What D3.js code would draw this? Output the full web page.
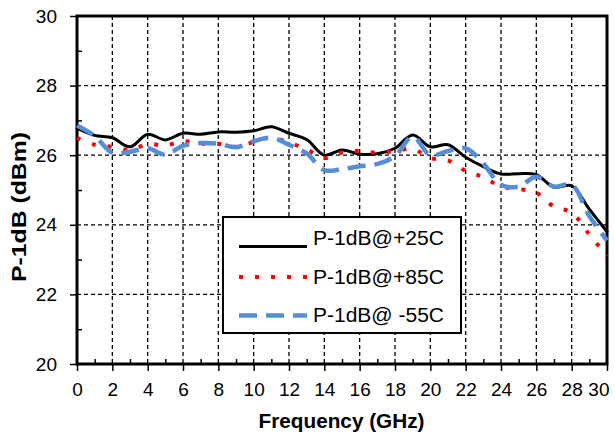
<!DOCTYPE html>
<html>
<head>
<meta charset="utf-8">
<script src="https://cdn.jsdelivr.net/npm/d3@7"></script>
<style>
  body { margin: 0; background: #fff; }
  text { font-family: Arial, "Liberation Sans", sans-serif; }
</style>
</head>
<body>
<svg width="615" height="435"></svg>
<script>
// frequency points (GHz)
var freq = [0, 1, 2, 3, 4, 5, 6, 7, 8, 9, 10, 11, 12, 13, 14, 15, 16, 17, 18, 19, 20, 21, 22, 23, 24, 25, 26, 27, 28, 29, 30];

// P-1dB in dBm for each temperature
var p25 = [26.78, 26.57, 26.5, 26.24, 26.6, 26.44, 26.63, 26.6, 26.67, 26.66, 26.7, 26.82, 26.63, 26.45, 26.0, 26.15, 26.03, 26.04, 26.2, 26.58, 26.24, 26.3, 25.94, 25.67, 25.46, 25.47, 25.44, 25.08, 25.12, 24.45, 23.8];
var p85 = [26.5, 26.3, 26.24, 26.15, 26.32, 26.28, 26.4, 26.33, 26.33, 26.24, 26.38, 26.5, 26.36, 26.17, 25.92, 26.08, 26.12, 26.07, 26.12, 26.18, 25.92, 25.85, 25.55, 25.37, 25.1, 25.03, 24.92, 24.52, 24.35, 23.72, 23.1];
var m55 = [26.85, 26.55, 26.07, 26.1, 26.2, 26.02, 26.27, 26.35, 26.33, 26.23, 26.4, 26.5, 26.3, 26.05, 25.57, 25.6, 25.68, 25.75, 25.97, 26.53, 26.0, 26.12, 26.2, 25.76, 25.15, 25.1, 25.38, 25.1, 25.15, 24.25, 23.55];

var seriesNames = ["P-1dB@+25C", "P-1dB@+85C", "P-1dB@ -55C"];

var xTicks = [0, 2, 4, 6, 8, 10, 12, 14, 16, 18, 20, 22, 24, 26, 28, 30];
var xMinor = [1, 3, 5, 7, 9, 11, 13, 15, 17, 19, 21, 23, 25, 27, 29];
var yTicks = [20, 22, 24, 26, 28, 30];
var yMinor = [21, 23, 25, 27, 29];

var svg = d3.select("svg");
var plot = {left: 77, right: 607, top: 16, bottom: 364};

var xScale = d3.scaleLinear().domain([0, 30]).range([plot.left, plot.right]);
var yScale = d3.scaleLinear().domain([20, 30]).range([plot.bottom, plot.top]);

// dashed grid
svg.append("g").selectAll("line")
  .data(xTicks.slice(1, -1))
  .enter().append("line")
  .attr("x1", function(d){ return xScale(d); })
  .attr("x2", function(d){ return xScale(d); })
  .attr("y1", plot.top).attr("y2", plot.bottom)
  .attr("stroke", "#000").attr("stroke-width", 1.3)
  .attr("stroke-dasharray", "4 3");

svg.append("g").selectAll("line")
  .data(yTicks.slice(1, -1))
  .enter().append("line")
  .attr("y1", function(d){ return yScale(d); })
  .attr("y2", function(d){ return yScale(d); })
  .attr("x1", plot.left).attr("x2", plot.right)
  .attr("stroke", "#000").attr("stroke-width", 1.3)
  .attr("stroke-dasharray", "4 3");

// axes
var xAxis = d3.axisBottom(xScale).tickValues(xTicks).tickSizeInner(7).tickSizeOuter(0).tickPadding(12);
var xAxisMinor = d3.axisBottom(xScale).tickValues(xMinor).tickSize(-5).tickFormat("");
var yAxis = d3.axisLeft(yScale).tickValues(yTicks).tickSizeInner(7).tickSizeOuter(0).tickPadding(13);
var yAxisMinor = d3.axisLeft(yScale).tickValues(yMinor).tickSize(-5).tickFormat("");

var gx = svg.append("g").attr("transform", "translate(0," + plot.bottom + ")").call(xAxis);
svg.append("g").attr("transform", "translate(0," + plot.bottom + ")").call(xAxisMinor);
var gy = svg.append("g").attr("transform", "translate(" + plot.left + ",0)").call(yAxis);
svg.append("g").attr("transform", "translate(" + plot.left + ",0)").call(yAxisMinor);

svg.selectAll(".domain").remove();
svg.selectAll(".tick line").attr("stroke", "#000").attr("stroke-width", 1.5);
svg.selectAll(".tick text").attr("font-size", 19).attr("fill", "#000")
  .style("font-family", "Arial, 'Liberation Sans', sans-serif");

// last x label is pulled in so it stays on the page
gx.selectAll(".tick text").filter(function(d){ return d === 30; })
  .attr("text-anchor", "end").attr("dx", 2);

// frame
svg.append("rect")
  .attr("x", plot.left).attr("y", plot.top)
  .attr("width", plot.right - plot.left).attr("height", plot.bottom - plot.top)
  .attr("fill", "none").attr("stroke", "#000").attr("stroke-width", 3);

// curves
var line = function(vals){
  return d3.line()
    .x(function(d, i){ return xScale(freq[i]); })
    .y(function(d){ return yScale(d); })
    .curve(d3.curveCatmullRom.alpha(0.5))(vals);
};

var styles = [
  {color: "#000000", width: 3, dash: null, cap: "round"},
  {color: "#ff0000", width: 4, dash: "4 12", cap: "butt"},
  {color: "#558ed5", width: 4.5, dash: "18 9", cap: "butt"}
];

[p25, p85, m55].forEach(function(vals, k){
  svg.append("path")
    .attr("d", line(vals))
    .attr("fill", "none")
    .attr("stroke", styles[k].color)
    .attr("stroke-width", styles[k].width)
    .attr("stroke-linecap", styles[k].cap)
    .attr("stroke-linejoin", "round")
    .attr("stroke-dasharray", styles[k].dash);
});

// legend
var legend = svg.append("g");
legend.append("rect")
  .attr("x", 223).attr("y", 217).attr("width", 238).attr("height", 116)
  .attr("fill", "#fff").attr("stroke", "#000").attr("stroke-width", 2);

var rowLine = [246.5, 277, 315.5];
var rowText = [245, 283.5, 322];
seriesNames.forEach(function(name, k){
  legend.append("line")
    .attr("x1", 239).attr("x2", 307)
    .attr("y1", rowLine[k]).attr("y2", rowLine[k])
    .attr("stroke", styles[k].color)
    .attr("stroke-width", styles[k].width)
    .attr("stroke-dasharray", styles[k].dash);
  legend.append("text")
    .attr("x", 313).attr("y", rowText[k])
    .attr("font-size", 20)
    .attr("textLength", 131).attr("lengthAdjust", "spacingAndGlyphs")
    .text(name);
});

// axis titles
svg.append("text")
  .attr("x", 341.5).attr("y", 428)
  .attr("text-anchor", "middle")
  .attr("font-size", 20).attr("font-weight", "bold")
  .attr("textLength", 166).attr("lengthAdjust", "spacingAndGlyphs")
  .text("Frequency (GHz)");

svg.append("text")
  .attr("transform", "translate(26,207) rotate(-90)")
  .attr("text-anchor", "middle")
  .attr("font-size", 20).attr("font-weight", "bold")
  .attr("textLength", 150).attr("lengthAdjust", "spacingAndGlyphs")
  .text("P-1dB (dBm)");
</script>
</body>
</html>
